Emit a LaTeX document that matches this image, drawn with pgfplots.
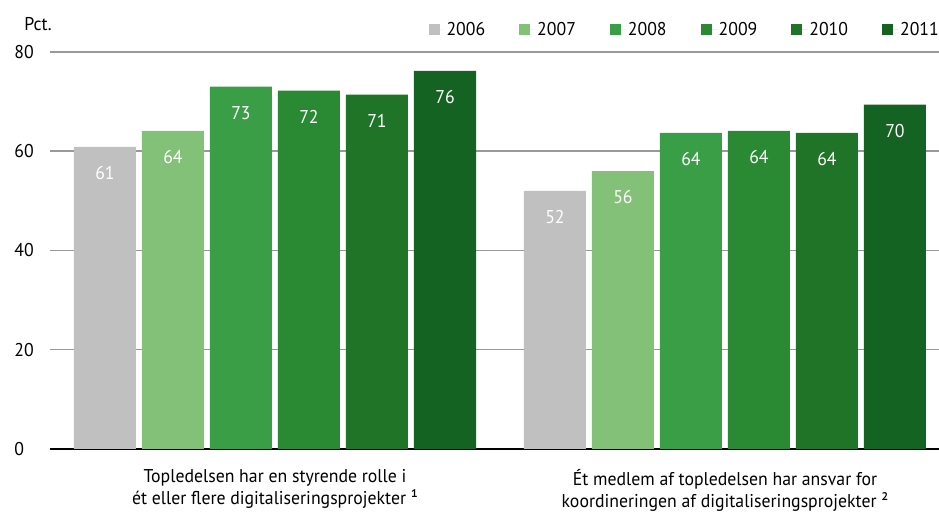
\documentclass[border=0pt]{standalone}
\usepackage{pgfplots}
\pgfplotsset{compat=1.18}
\usepackage{fontspec}
\setmainfont{PT Sans}[FakeStretch=0.96]
\definecolor{c06}{HTML}{C0C0C0}
\definecolor{c07}{HTML}{82C177}
\definecolor{c08}{HTML}{3A9E47}
\definecolor{c09}{HTML}{2A8A33}
\definecolor{c10}{HTML}{1F7428}
\definecolor{c11}{HTML}{146323}
\pgfplotstableread{
x y label
0 60.9 61
1 52.0 52
}\ta
\pgfplotstableread{
x y label
0 64.1 64
1 56.0 56
}\tb
\pgfplotstableread{
x y label
0 73.0 73
1 63.7 64
}\tc
\pgfplotstableread{
x y label
0 72.2 72
1 64.1 64
}\td
\pgfplotstableread{
x y label
0 71.4 71
1 63.7 64
}\te
\pgfplotstableread{
x y label
0 76.2 76
1 69.4 70
}\tf
\begin{document}
\fontsize{18.5}{22}\selectfont
\begin{tikzpicture}
\useasboundingbox (-50pt,-64pt) rectangle (889pt,449pt);
\begin{axis}[
  at={(0pt,0pt)}, anchor=south west,
  scale only axis, width=889pt, height=397pt,
  xmin=-0.5, xmax=1.4756, ymin=0, ymax=80,
  ytick={0,20,40,60,80},
  xtick={0,1},
  xticklabels={{Topledelsen har en styrende rolle i\\ét eller flere digitaliseringsprojekter ¹},{Ét medlem af topledelsen har ansvar for\\koordineringen af digitaliseringsprojekter ²}},
  xticklabel style={align=center, font=\fontsize{18.5}{22}\selectfont, yshift=-14pt},
  yticklabel style={anchor=west, xshift=-42pt, font=\fontsize{18.5}{22}\selectfont},
  /pgf/number format/assume math mode=true,
  major tick length=0pt,
  axis lines=left,
  y axis line style={draw=none},
  x axis line style={line width=2.5pt, black, -},
  ymajorgrids,
  grid style={color=black!40, line width=1.5pt},
  ybar, bar width=62pt,
  point meta=explicit symbolic,
  nodes near coords,
  nodes near coords style={white, anchor=north, yshift=-13pt, font=\fontsize{18.5}{22}\selectfont},
  legend columns=6,
  legend image code/.code={\fill[#1,draw=none] (0pt,-5.5pt) rectangle (11pt,5.5pt); \path (0pt,0pt) -- (16pt,0pt);},
  legend style={draw=none, fill=none, at={(1,1)}, anchor=east, yshift=22pt, xshift=2pt, inner sep=0pt,
    font=\fontsize{18.5}{22}\selectfont,
    /tikz/every even column/.append style={column sep=32pt}},
]
\addplot[fill=c06, draw=none, bar shift=-170pt] table[x=x,y=y,meta=label]{\ta};
\addplot[fill=c07, draw=none, bar shift=-102pt] table[x=x,y=y,meta=label]{\tb};
\addplot[fill=c08, draw=none, bar shift=-34pt] table[x=x,y=y,meta=label]{\tc};
\addplot[fill=c09, draw=none, bar shift=34pt] table[x=x,y=y,meta=label]{\td};
\addplot[fill=c10, draw=none, bar shift=102pt] table[x=x,y=y,meta=label]{\te};
\addplot[fill=c11, draw=none, bar shift=170pt] table[x=x,y=y,meta=label]{\tf};
\legend{2006,2007,2008,2009,2010,2011}
\end{axis}
\node at (-12pt,425pt) {Pct.};
\end{tikzpicture}
\end{document}
